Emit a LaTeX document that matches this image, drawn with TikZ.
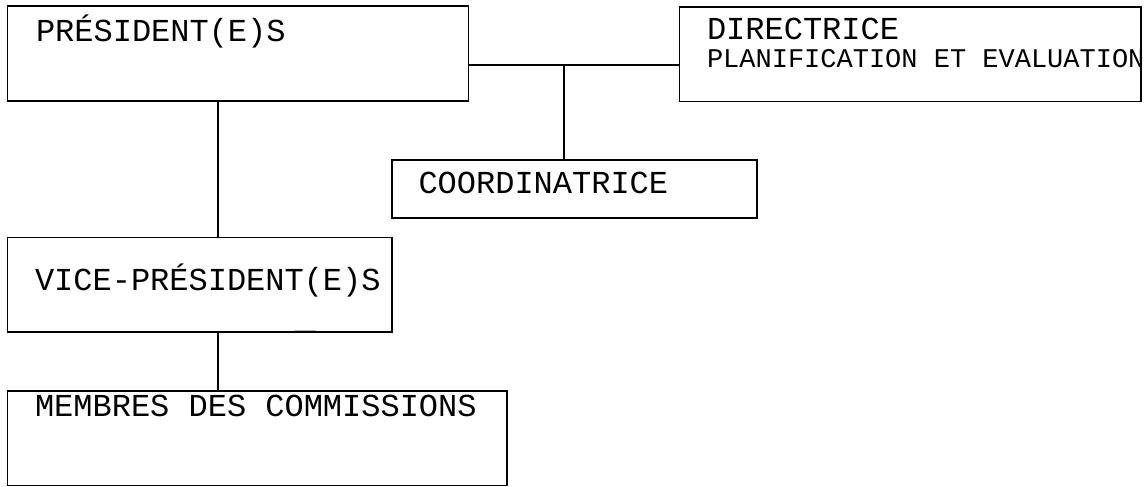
\documentclass[tikz,border=0pt]{standalone}
\usepackage{fontspec}
\newfontfamily\cour{Liberation Mono}
\tikzset{
  box/.style={draw=black, line width=1.6pt, inner sep=0pt, outer sep=0pt, rectangle},
  lbl/.style={inner sep=0pt, outer sep=0pt, anchor=base west, font=\cour\fontsize{32}{36}\selectfont},
  lblsmall/.style={inner sep=0pt, outer sep=0pt, anchor=base west, font=\cour\fontsize{27}{30}\selectfont},
  conn/.style={draw=black, line width=1.6pt}
}
\begin{document}
\begin{tikzpicture}[x=1pt,y=-1pt]
\useasboundingbox (0,0) rectangle (1146,487);
% boxes
\node[box, minimum width=461.2pt, minimum height=94.7pt] (pres) at (237.9,53.35) {};
\node[box, minimum width=461.5pt, minimum height=94.5pt] (dir) at (910.25,54.25) {};
\node[box, minimum width=365pt, minimum height=58pt] (coord) at (574.2,189) {};
\node[box, minimum width=384.4pt, minimum height=94.4pt] (vice) at (199.5,284.5) {};
\node[box, minimum width=499.4pt, minimum height=94.8pt] (memb) at (257,438.1) {};
% labels
\node[lbl] (tpres) at (36,42) {PRÉSIDENT(E)S};
\node[lbl] (tdir) at (707,39.3) {DIRECTRICE};
\node[lblsmall] (tplan) at (707,67) {PLANIFICATION ET EVALUATION};
\node[lbl] (tcoord) at (418.5,193.3) {COORDINATRICE};
\node[lbl] (tvice) at (35,290) {VICE-PRÉSIDENT(E)S};
\node[lbl] (tmemb) at (35,416.7) {MEMBRES DES COMMISSIONS};
% connectors
\coordinate (h) at (564,65);
\coordinate (v) at (218,0);
\draw[conn] (h -| pres.east) -- (h -| dir.west);
\draw[conn] (h) -- (h |- coord.north);
\draw[conn] (v |- pres.south) -- (v |- vice.north);
\draw[conn] (v |- vice.south) -- (v |- memb.north);
% small grey mark on the vice box bottom edge
\draw[gray!55, line width=1.2pt] (294,330.6) -- (316,330.6);
\end{tikzpicture}
\end{document}
